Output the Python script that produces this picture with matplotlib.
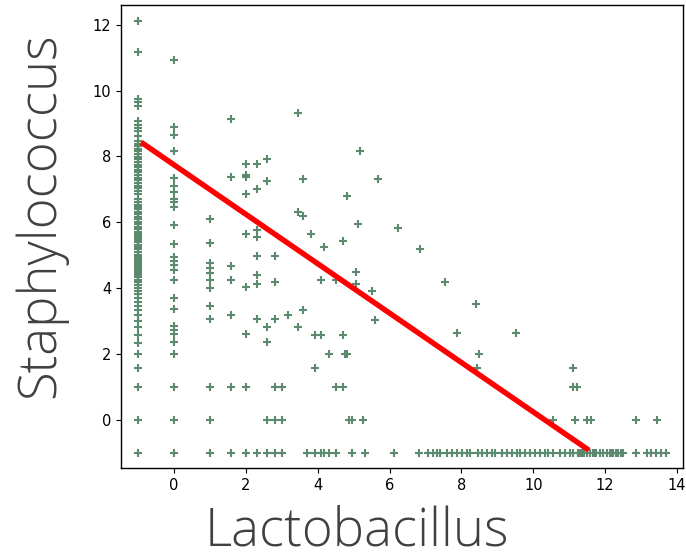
import matplotlib
matplotlib.use("Agg")
import matplotlib.pyplot as plt

# ---- data (log2-scaled abundances; -1 stands for zero counts) ----
col_neg1_y = [-1, 0, 1, 1.58, 2, 2.32, 2.58, 2.81, 3.0, 3.17, 3.32, 3.46, 3.58, 3.70, 3.81, 3.91,
              4.0, 4.09, 4.17, 4.25, 4.32, 4.39, 4.46, 4.52, 4.58, 4.64, 4.70, 4.75, 4.81, 4.86,
              4.91, 4.95, 5.0, 5.09, 5.17, 5.25, 5.32, 5.39, 5.46, 5.52, 5.58, 5.64, 5.70, 5.78,
              5.86, 5.93, 6.0, 6.09, 6.17, 6.25, 6.32, 6.39, 6.46, 6.52, 6.61, 6.70, 6.86, 6.95,
              7.03, 7.11, 7.19, 7.27, 7.35, 7.43, 7.51, 7.59, 7.67, 7.75, 7.83, 7.91, 7.99, 8.07,
              8.15, 8.23, 8.31, 8.39, 8.46, 8.63, 8.76, 8.86, 8.96, 9.07, 9.52, 9.64, 9.74,
              11.17, 12.1]
col_0_y = [-1, 0, 1, 2.0, 2.36, 2.6, 2.71, 2.84, 3.35, 3.7, 4.25, 4.54, 4.69, 4.81, 4.94,
           5.34, 5.91, 6.46, 6.61, 6.7, 6.91, 7.11, 7.33, 8.15, 8.64, 8.9, 10.94]
col_1_y = [-1, 0, 1, 3.05, 3.46, 4.0, 4.25, 4.46, 4.6, 4.75, 5.37, 6.1]
col_158_y = [-1, 1, 3.17, 4.25, 4.66, 7.38, 9.14]
col_2_y = [-1, 1, 2.61, 4.02, 5.63, 6.85, 7.38, 7.44, 7.78]
col_232_y = [-1, 3.05, 4.11, 4.41, 4.98, 5.55, 5.76, 7.02, 7.76]
col_258_y = [-1, 0, 2.36, 2.83, 7.25, 7.93]
col_281_y = [-1, 0, 1, 3.05, 4.18, 4.98]
col_3_y = [-1, 0, 1]

mid_x = [3.17, 3.46, 3.58, 3.46, 3.58, 3.81, 4.17, 4.70, 4.09, 4.52, 3.58, 3.46, 3.91, 4.09,
         4.70, 4.32, 4.75, 4.81, 3.91, 4.52, 4.70, 4.86, 4.95, 5.25, 5.17, 5.67, 4.81, 5.13,
         6.23, 6.85, 5.07, 5.07, 7.55, 5.50, 5.58, 8.41, 7.87, 9.53, 8.49, 8.44, 11.1, 11.1,
         11.23, 10.56, 11.16, 11.5, 11.6, 12.85, 13.45]
mid_y = [3.17, 9.32, 7.32, 6.30, 6.18, 5.64, 5.25, 5.43, 4.25, 4.25, 3.32, 2.81, 2.58, 2.58,
         2.58, 2.0, 2.0, 2.0, 1.58, 1.0, 1.0, 0, 0, 0, 8.17, 7.32, 6.81, 5.93,
         5.81, 5.20, 4.48, 4.11, 4.17, 3.91, 3.03, 3.50, 2.62, 2.62, 2.0, 1.58, 1.58, 1.0,
         1.0, 0, 0, 0, 0, 0, 0]

bottom_x = [3.7, 3.91, 4.09, 4.17, 4.32, 4.52, 4.95, 5.32, 6.11, 6.81, 7.08, 7.22, 7.31, 7.40,
            7.59, 7.73, 7.87, 8.01, 8.15, 8.24, 8.47, 8.56, 8.70, 8.84, 8.93, 9.12, 9.26, 9.40,
            9.54, 9.63, 9.77, 9.91, 10.05, 10.19, 10.33, 10.42, 10.56, 10.74, 10.88, 11.02,
            11.11, 11.25, 11.30, 11.35, 11.42, 11.49, 11.58, 11.67, 11.72, 11.76, 11.85, 11.95,
            12.04, 12.13, 12.18, 12.23, 12.30, 12.37, 12.45, 12.51, 12.85, 13.16, 13.29, 13.43,
            13.57, 13.71]
bottom_level = -1

fit_x = [-0.92, 11.55]
fit_y = [8.43, -0.93]

x_ticks = [0, 2, 4, 6, 8, 10, 12, 14]
y_ticks = [0, 2, 4, 6, 8, 10, 12]

# ---- figure ----
fig = plt.figure(figsize=(6.86, 5.58), dpi=100)
ax = fig.add_axes([121 / 686, 90 / 558, 562 / 686, 463 / 558])

mcol = "#5b8a6f"
mk = dict(marker="+", ls="none", ms=5.5, mew=1.5, color=mcol)

columns = [(-1, col_neg1_y), (0, col_0_y), (1, col_1_y), (1.58, col_158_y), (2, col_2_y),
           (2.32, col_232_y), (2.58, col_258_y), (2.81, col_281_y), (3.0, col_3_y)]
for cx, ys in columns:
    ax.plot([cx] * len(ys), ys, **mk)
ax.plot(mid_x, mid_y, **mk)
ax.plot(bottom_x, [bottom_level] * len(bottom_x), **mk)

ax.plot(fit_x, fit_y, color="#ff0000", lw=3.9, solid_capstyle="butt", zorder=5)

ax.set_xlim(-1.48, 14.17)
ax.set_ylim(-1.47, 12.6)
ax.set_xticks(x_ticks)
ax.set_yticks(y_ticks)
ax.tick_params(labelsize=10.5, colors="black")
for s in ax.spines.values():
    s.set_linewidth(1.0)

lab = dict(family=["Open Sans", "DejaVu Sans"], fontweight=300, color="#404040", fontsize=38)
fig.text(357 / 686, 0.0, "Lactobacillus", ha="center", va="bottom", **lab)
fig.text(40 / 686, 1 - 215 / 558, "Staphylococcus", ha="center", va="center",
         rotation=90, **lab)

fig.savefig("out.png", dpi=100)
